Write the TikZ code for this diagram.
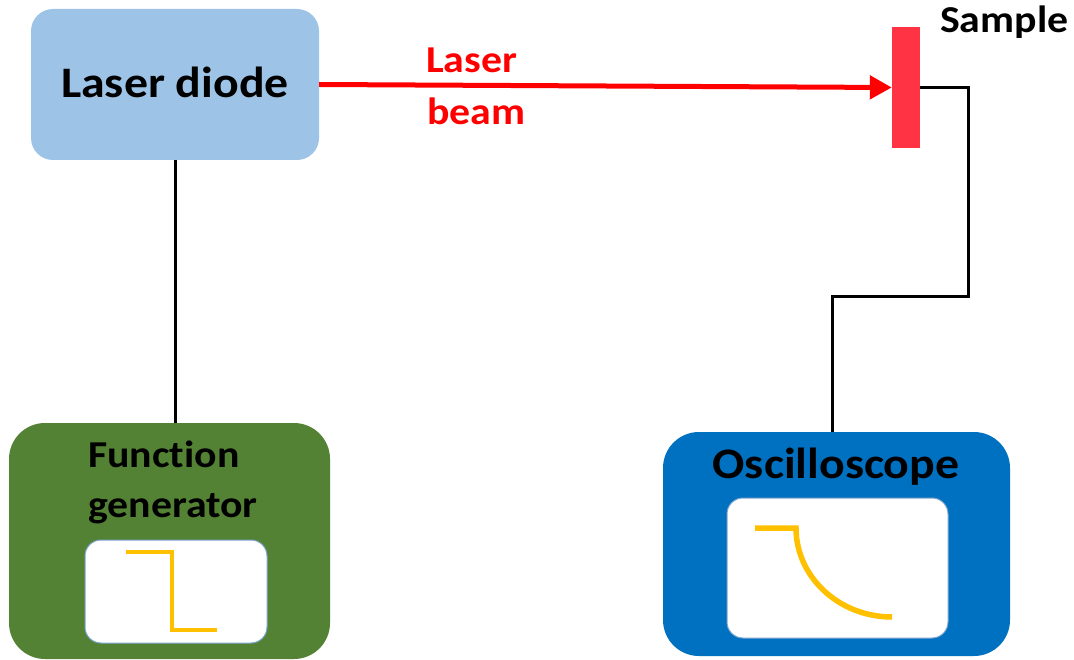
\documentclass[tikz,border=0pt]{standalone}
\usepackage{fontspec}
\setmainfont[Ligatures=NoCommon]{Carlito}
\newfontfamily\widefont[Ligatures=NoCommon,FakeStretch=1.1]{Carlito}
\usetikzlibrary{arrows.meta}
\definecolor{ldblue}{HTML}{9DC3E6}
\definecolor{fggreen}{HTML}{548235}
\definecolor{osblue}{HTML}{0070C0}
\definecolor{samplered}{HTML}{FF3344}
\definecolor{sigyellow}{HTML}{FFC000}
\definecolor{screenedge}{HTML}{7BA3CF}
\tikzset{
  box/.style={rectangle, rounded corners=#1, inner sep=0pt, draw=none},
  bigtext/.style={font=\widefont\fontsize{43.5}{46}\selectfont\bfseries, inner sep=0pt},
  midtext/.style={font=\widefont\fontsize{38}{40}\selectfont\bfseries, inner sep=0pt},
  screen/.style={rectangle, rounded corners=16pt, fill=white, draw=screenedge, line width=1pt, inner sep=0pt},
  wire/.style={draw=black, line width=3pt},
  beam/.style={draw=red, line width=5pt, -{Triangle[length=22pt,width=23pt]}},
  signal/.style={draw=sigyellow, line width=#1},
  signal/.default=4.5pt
}
\begin{document}
\begin{tikzpicture}[x=1pt,y=-1pt]
\useasboundingbox (0,0) rectangle (1074,660);
% boxes
\node[box=22pt, fill=ldblue, minimum width=288pt, minimum height=151pt] (ld) at (175,84.5) {};
\node[bigtext, anchor=base] (ldtext) at (175,98) {Laser diode};
\node[box=36pt, fill=fggreen, minimum width=321pt, minimum height=236pt] (fg) at (169.5,541) {};
\node[midtext, anchor=base west] (fgt1) at (88,467) {Function};
\node[midtext, anchor=base west] (fgt2) at (88,517) {generator};
\node[screen, minimum width=182pt, minimum height=103pt] (fgscr) at (176,591.5) {};
\node[box=36pt, fill=osblue, minimum width=347pt, minimum height=224pt] (osc) at (836.5,544) {};
\node[bigtext, anchor=base] (osct) at (836,478) {Oscilloscope};
\node[screen, minimum width=221pt, minimum height=140pt] (oscscr) at (837.5,568) {};
\node[rectangle, fill=samplered, minimum width=28pt, minimum height=121pt, inner sep=0pt] (sample) at (906,87.5) {};
\node[midtext, anchor=base west] (samplet) at (940,33) {Sample};
\node[midtext, text=red, anchor=base west] (lb1) at (426,73) {Laser};
\node[midtext, text=red, anchor=base west] (lb2) at (427,125) {beam};
% connectors
\draw[wire] (ld.south) -- (ld.south |- fg.north);
\coordinate (w1) at (968,297);
\draw[wire] (sample.east) -| (w1) -| ([xshift=-4pt]osc.north);
\draw[beam] (ld.east) -- (sample.west);
% signals
\coordinate (s1) at (126,552);
\coordinate (s2) at (172,552);
\coordinate (s3) at (172,630);
\coordinate (s4) at (217,630);
\draw[signal] (s1) -- (s2) -- (s3) -- (s4);
\coordinate (o1) at (755,528);
\coordinate (o2) at (796,528);
\coordinate (o3) at (892,617);
\draw[signal=5.5pt] (o1) -- (o2) .. controls (796,577) and (839,617) .. (o3);
\end{tikzpicture}
\end{document}
